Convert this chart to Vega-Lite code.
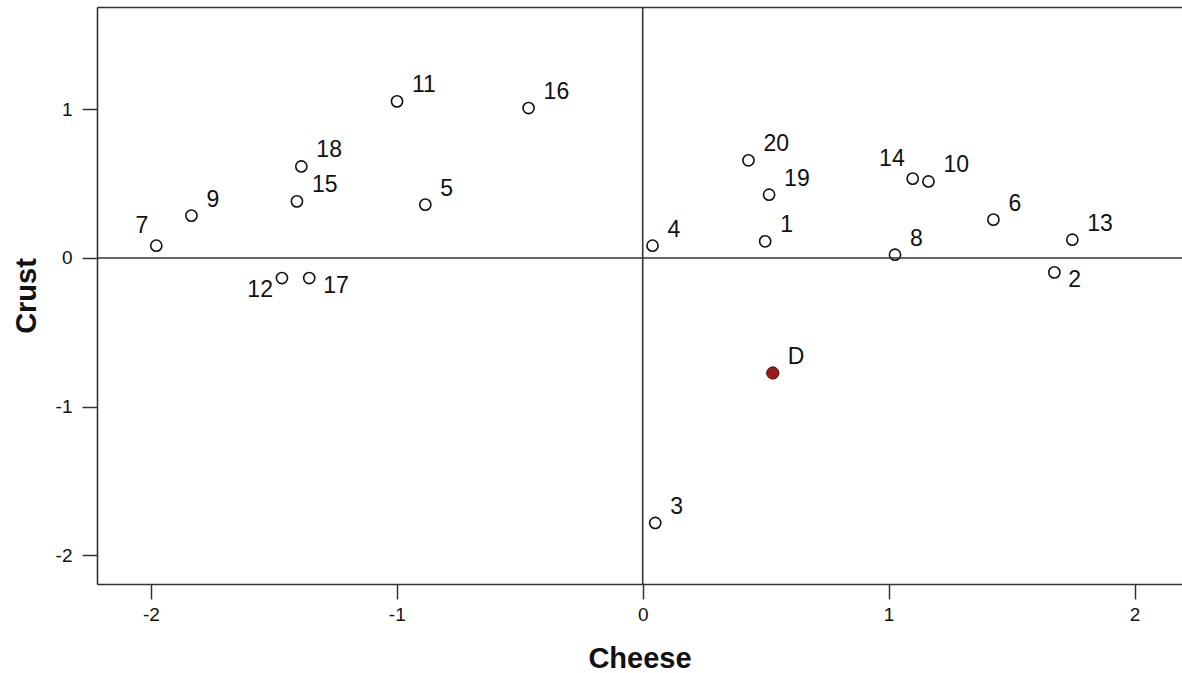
{
  "$schema": "https://vega.github.io/schema/vega-lite/v6.json",
  "width": 1085,
  "height": 577,
  "autosize": {"type": "none"},
  "padding": {"left": 97, "top": 7, "right": 0, "bottom": 89},
  "background": "white",
  "config": {"view": {"stroke": null}, "font": "Liberation Sans"},
  "data": {
    "values": [
      {"id": "1", "cheese": 0.498, "crust": 0.112, "kind": "case", "side": "upper-right"},
      {"id": "2", "cheese": 1.674, "crust": -0.097, "kind": "case", "side": "lower-right"},
      {"id": "3", "cheese": 0.051, "crust": -1.783, "kind": "case", "side": "upper-right"},
      {"id": "4", "cheese": 0.040, "crust": 0.083, "kind": "case", "side": "upper-right"},
      {"id": "5", "cheese": -0.884, "crust": 0.359, "kind": "case", "side": "upper-right"},
      {"id": "6", "cheese": 1.426, "crust": 0.258, "kind": "case", "side": "upper-right"},
      {"id": "7", "cheese": -1.978, "crust": 0.083, "kind": "case", "side": "upper-left"},
      {"id": "8", "cheese": 1.026, "crust": 0.022, "kind": "case", "side": "upper-right"},
      {"id": "9", "cheese": -1.835, "crust": 0.285, "kind": "case", "side": "upper-right"},
      {"id": "10", "cheese": 1.162, "crust": 0.515, "kind": "case", "side": "upper-right"},
      {"id": "11", "cheese": -0.999, "crust": 1.054, "kind": "case", "side": "upper-right"},
      {"id": "12", "cheese": -1.467, "crust": -0.135, "kind": "case", "side": "lower-left"},
      {"id": "13", "cheese": 1.747, "crust": 0.123, "kind": "case", "side": "upper-right"},
      {"id": "14", "cheese": 1.098, "crust": 0.534, "kind": "case", "side": "upper-left"},
      {"id": "15", "cheese": -1.406, "crust": 0.381, "kind": "case", "side": "upper-right"},
      {"id": "16", "cheese": -0.464, "crust": 1.009, "kind": "case", "side": "upper-right"},
      {"id": "17", "cheese": -1.356, "crust": -0.135, "kind": "case", "side": "lower-right"},
      {"id": "18", "cheese": -1.388, "crust": 0.616, "kind": "case", "side": "upper-right"},
      {"id": "19", "cheese": 0.514, "crust": 0.426, "kind": "case", "side": "upper-right"},
      {"id": "20", "cheese": 0.430, "crust": 0.657, "kind": "case", "side": "upper-right"},
      {"id": "D", "cheese": 0.529, "crust": -0.774, "kind": "ideal", "side": "upper-right"}
    ]
  },
  "resolve": {"axis": {"x": "independent"}},
  "layer": [
    {
      "transform": [{"filter": "datum.kind === 'case'"}],
      "mark": {"type": "point", "shape": "circle", "filled": false, "stroke": "#111111", "strokeWidth": 1.6, "size": 125, "opacity": 1},
      "encoding": {
        "x": {
          "field": "cheese", "type": "quantitative",
          "scale": {"domain": [-2.219, 2.193], "nice": false, "zero": false},
          "axis": {
            "orient": "bottom", "values": [-2, -1, 0, 1, 2], "grid": false,
            "labelExpr": "datum.value + ''",
            "title": "Cheese", "titleFontSize": 29, "titleFontWeight": "bold", "titleColor": "#111111", "titlePadding": 20,
            "labelFontSize": 19, "labelColor": "#111111", "labelPadding": 6,
            "tickSize": 15, "tickWidth": 1.5, "tickColor": "#333333",
            "domainColor": "#333333", "domainWidth": 1.6
          }
        },
        "y": {
          "field": "crust", "type": "quantitative",
          "scale": {"domain": [-2.194, 1.689], "nice": false, "zero": false},
          "axis": {
            "orient": "left", "values": [-2, -1, 0, 1], "grid": false,
            "labelExpr": "datum.value + ''",
            "title": "Crust", "titleFontSize": 29, "titleFontWeight": "bold", "titleColor": "#111111", "titlePadding": 14,
            "labelFontSize": 19, "labelColor": "#111111", "labelPadding": 10,
            "tickSize": 15, "tickWidth": 1.5, "tickColor": "#333333",
            "domainColor": "#333333", "domainWidth": 1.6
          }
        }
      }
    },
    {
      "data": {"values": [{"origin": 0}]},
      "mark": {"type": "rule", "color": "#333333", "strokeWidth": 1.6},
      "encoding": {
        "x": {
          "field": "origin", "type": "quantitative",
          "axis": {"orient": "top", "labels": false, "ticks": false, "grid": false, "title": null, "domain": true, "domainColor": "#333333", "domainWidth": 1.6}
        }
      }
    },
    {
      "data": {"values": [{"origin": 0}]},
      "mark": {"type": "rule", "color": "#333333", "strokeWidth": 1.6},
      "encoding": {
        "y": {"field": "origin", "type": "quantitative"}
      }
    },
    {
      "transform": [{"filter": "datum.kind === 'ideal'"}],
      "mark": {"type": "point", "shape": "circle", "filled": true, "fill": "#9e1a1a", "stroke": "#4a0a0a", "strokeWidth": 1, "size": 150, "opacity": 1},
      "encoding": {
        "x": {"field": "cheese", "type": "quantitative", "axis": null},
        "y": {"field": "crust", "type": "quantitative"}
      }
    },
    {
      "transform": [{"filter": "datum.side === 'upper-right'"}],
      "mark": {"type": "text", "align": "left", "baseline": "middle", "dx": 15, "dy": -16, "fontSize": 23, "color": "#111111"},
      "encoding": {
        "x": {"field": "cheese", "type": "quantitative", "axis": null},
        "y": {"field": "crust", "type": "quantitative"},
        "text": {"field": "id"}
      }
    },
    {
      "transform": [{"filter": "datum.side === 'upper-left'"}],
      "mark": {"type": "text", "align": "right", "baseline": "middle", "dx": -8, "dy": -20, "fontSize": 23, "color": "#111111"},
      "encoding": {
        "x": {"field": "cheese", "type": "quantitative", "axis": null},
        "y": {"field": "crust", "type": "quantitative"},
        "text": {"field": "id"}
      }
    },
    {
      "transform": [{"filter": "datum.side === 'lower-left'"}],
      "mark": {"type": "text", "align": "right", "baseline": "middle", "dx": -9, "dy": 12, "fontSize": 23, "color": "#111111"},
      "encoding": {
        "x": {"field": "cheese", "type": "quantitative", "axis": null},
        "y": {"field": "crust", "type": "quantitative"},
        "text": {"field": "id"}
      }
    },
    {
      "transform": [{"filter": "datum.side === 'lower-right'"}],
      "mark": {"type": "text", "align": "left", "baseline": "middle", "dx": 14, "dy": 8, "fontSize": 23, "color": "#111111"},
      "encoding": {
        "x": {"field": "cheese", "type": "quantitative", "axis": null},
        "y": {"field": "crust", "type": "quantitative"},
        "text": {"field": "id"}
      }
    }
  ]
}
